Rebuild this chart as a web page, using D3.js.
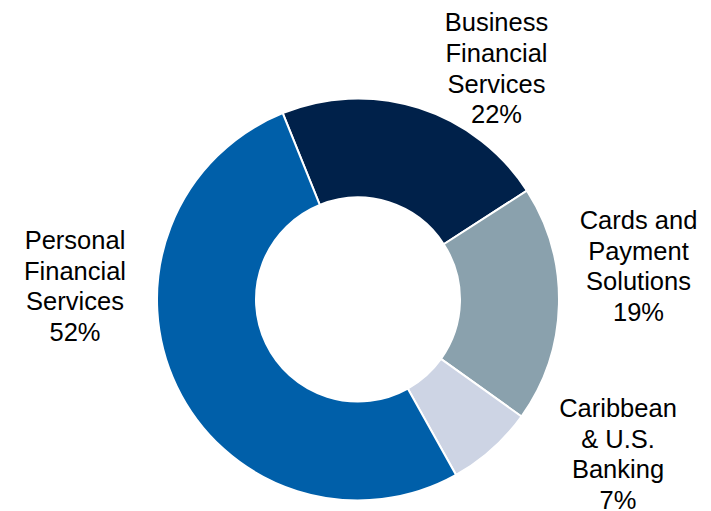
<!DOCTYPE html>
<html>
<head>
<meta charset="utf-8">
<script src="https://cdn.jsdelivr.net/npm/d3@7"></script>
<style>
  html, body { margin: 0; padding: 0; background: #fff; }
  svg { display: block; }
  text { font-family: "Liberation Sans", Arial, sans-serif; fill: #000; }
</style>
</head>
<body>
<svg id="chart" width="711" height="511"></svg>
<script>
// Revenue mix by segment
const segments = [
  ["Business", "Financial", "Services"],
  ["Cards and", "Payment", "Solutions"],
  ["Caribbean", "& U.S.", "Banking"],
  ["Personal", "Financial", "Services"]
];
const shares = [22, 19, 7, 52];
const colors = ["#00214A", "#8AA1AD", "#CDD4E4", "#005FA9"];

// Label block anchors (centre x, first baseline y), relative to the donut centre
const labelAnchors = [
  [138.5, -268.2],
  [280.5, -70.5],
  [260, 117.3],
  [-283, -50.5]
];

const width = 711, height = 511;
const cx = 358, cy = 299.5;
const outerR = 201, innerR = 102;
const startDeg = -22;
const lineGap = 30.7;

const svg = d3.select("#chart");
const g = svg.append("g").attr("transform", `translate(${cx},${cy})`);

const pie = d3.pie()
  .sort(null)
  .value(d => d)
  .startAngle(startDeg * Math.PI / 180)
  .endAngle((startDeg + 360) * Math.PI / 180);

const arc = d3.arc().innerRadius(innerR).outerRadius(outerR);

const arcs = pie(shares);

g.selectAll("path.slice")
  .data(arcs)
  .join("path")
  .attr("class", "slice")
  .attr("d", arc)
  .attr("fill", (d, i) => colors[i])
  .attr("stroke", "#fff")
  .attr("stroke-width", 2)
  .attr("stroke-linejoin", "miter");

const labels = g.selectAll("text.label")
  .data(arcs)
  .join("text")
  .attr("class", "label")
  .attr("text-anchor", "middle")
  .attr("font-size", "25.5px")
  .attr("x", (d, i) => labelAnchors[i][0])
  .attr("y", (d, i) => labelAnchors[i][1]);

labels.each(function(d, i) {
  const t = d3.select(this);
  const lines = segments[i].concat([d.data + "%"]);
  lines.forEach((line, k) => {
    t.append("tspan")
      .attr("x", labelAnchors[i][0])
      .attr("y", labelAnchors[i][1] + k * lineGap)
      .text(line);
  });
});
</script>
</body>
</html>
